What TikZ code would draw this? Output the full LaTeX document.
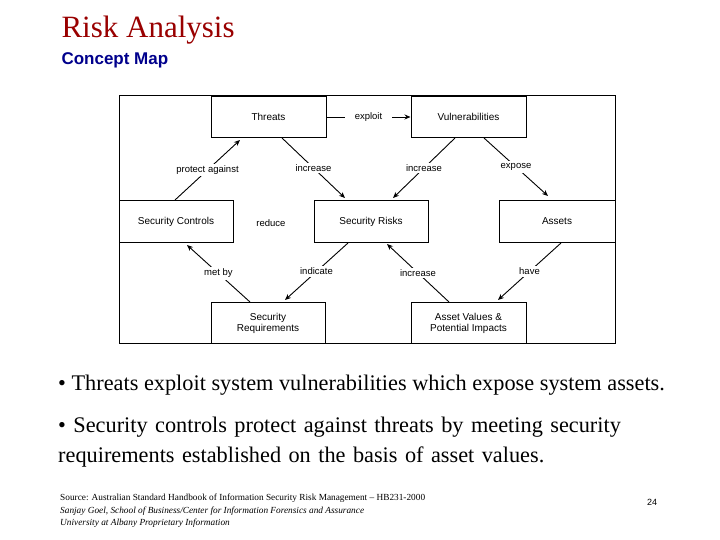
\documentclass[tikz,border=0pt]{standalone}
\usepackage{fontspec}
\usetikzlibrary{arrows.meta}
\setmainfont{Liberation Serif}
\newfontfamily\arial{Liberation Sans}
\begin{document}
\begin{tikzpicture}[x=1pt,y=-1pt,
  box/.style={draw,line width=1pt,inner sep=0pt,font=\arial\fontsize{10}{11}\selectfont,align=center},
  lbl/.style={fill=white,inner sep=2pt,font=\arial\fontsize{9.5}{10}\selectfont},
  arr/.style={line width=0.9pt,-{Stealth[length=6pt,width=5pt]}}]
\useasboundingbox (0,0) rectangle (720,540);
\node[anchor=west,text=red!60!black,font=\fontsize{31}{34}\selectfont] (title) at (58,30) {Risk Analysis};
\node[anchor=west,text=blue!55!black,font=\arial\bfseries\fontsize{17}{18}\selectfont] (sub) at (58,60) {Concept Map};
\draw[line width=0.8pt] (119,95) rectangle (615,343);
\node[box,minimum width=115,minimum height=41] (thr) at (268.5,117) {Threats};
\node[box,minimum width=115,minimum height=41] (vul) at (468.5,117) {Vulnerabilities};
\node[box,minimum width=114,minimum height=41] (sc) at (176,221.5) {Security Controls};
\node[box,minimum width=114,minimum height=41] (sr) at (371,221.5) {Security Risks};
\node[box,minimum width=116,minimum height=41] (as) at (557,221.5) {Assets};
\node[box,minimum width=114,minimum height=41] (req) at (268,323) {Security\\Requirements};
\node[box,minimum width=115,minimum height=41] (av) at (468.5,323) {Asset Values \&\\Potential Impacts};
\coordinate (a1) at (175,200); \coordinate (a2) at (240,140);
\coordinate (b1) at (282,138); \coordinate (b2) at (345,198);
\coordinate (c1) at (455,138); \coordinate (c2) at (393,198);
\coordinate (d1) at (484,138); \coordinate (d2) at (548,196);
\coordinate (e1) at (250,302); \coordinate (e2) at (187,245);
\coordinate (f1) at (348,243); \coordinate (f2) at (285,300);
\coordinate (g1) at (449,302); \coordinate (g2) at (387,244);
\coordinate (h1) at (561,243); \coordinate (h2) at (498,300);
\draw[arr] (thr.east) -- node[lbl,inner xsep=10pt] {exploit} (vul.west);
\draw[arr] (a1) -- node[lbl] {protect against} (a2);
\draw[arr] (b1) -- node[lbl] {increase} (b2);
\draw[arr] (c1) -- node[lbl] {increase} (c2);
\draw[arr] (d1) -- node[lbl] {expose} (d2);
\draw[arr] (e1) -- node[lbl] {met by} (e2);
\draw[arr] (f1) -- node[lbl] {indicate} (f2);
\draw[arr] (g1) -- node[lbl] {increase} (g2);
\draw[arr] (h1) -- node[lbl] {have} (h2);
\node[lbl] (red) at (271,223) {reduce};
\node[anchor=west,inner sep=0pt,font=\fontsize{22.3}{26}\selectfont] (b1t) at (58,385) {• Threats exploit system vulnerabilities which expose system assets.};
\node[anchor=north west,align=left,text width=580,inner sep=0pt,font=\fontsize{22.3}{30}\selectfont] (b2t) at (58,417) {• Security controls protect against threats by meeting security\\requirements established on the basis of asset values.};
\node[anchor=north west,align=left,inner sep=0pt,font=\fontsize{9.3}{12.5}\selectfont] (src) at (60,494) {Source: Australian Standard Handbook of Information Security Risk Management -- HB231-2000\\ \textit{Sanjay Goel, School of Business/Center for Information Forensics and Assurance}\\ \textit{University at Albany Proprietary Information}};
\node[font=\arial\fontsize{9}{10}\selectfont] (pg) at (652,502) {24};
\end{tikzpicture}
\end{document}
